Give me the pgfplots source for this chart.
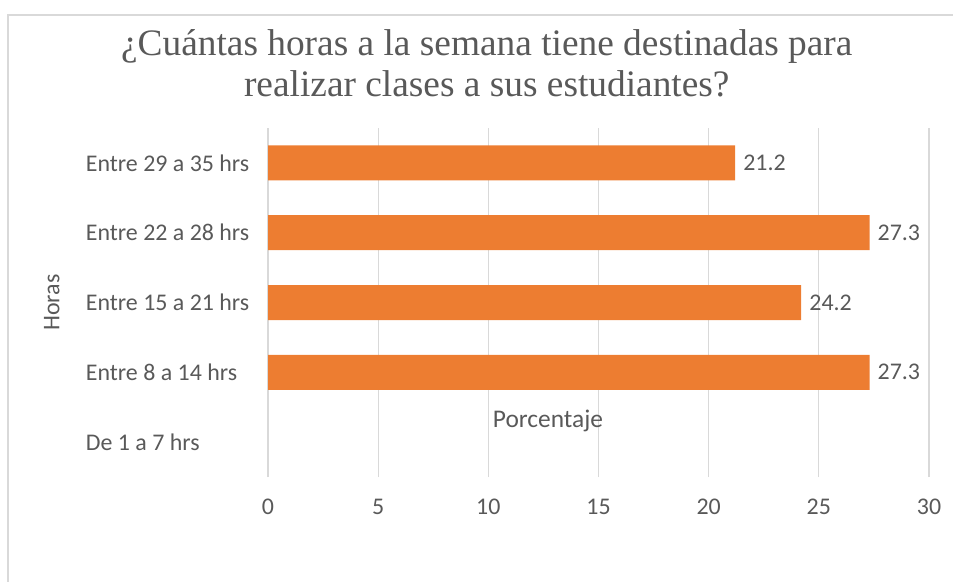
\documentclass[border=0pt]{standalone}
\usepackage{pgfplots}
\pgfplotsset{compat=1.18}
\usepackage{fontspec}
\setmainfont{Carlito}
\newfontfamily\titlefont{Liberation Serif}
\definecolor{barorange}{HTML}{ED7D31}
\definecolor{txtgray}{HTML}{595959}
\definecolor{gridgray}{HTML}{D9D9D9}

\begin{document}
\begin{tikzpicture}
\path[use as bounding box] (0,0) rectangle (953bp,-582bp);
\draw[gridgray, line width=1.5bp] (8bp,-582bp) -- (8bp,-15bp) -- (953bp,-15bp);
\begin{axis}[
  at={(268bp,-477bp)}, anchor=south west,
  width=661bp, height=349bp, scale only axis,
  xbar, bar width=35bp,
  xmin=0, xmax=30, xtick={0,5,...,30},
  ymin=-0.5, ymax=4.5, ytick={0,1,2,3,4},
  yticklabels={De 1 a 7 hrs, Entre 8 a 14 hrs, Entre 15 a 21 hrs, Entre 22 a 28 hrs, Entre 29 a 35 hrs},
  axis line style={draw=none},
  tick style={draw=none},
  xmajorgrids, major grid style={gridgray, line width=1.2bp},
  /pgf/number format/assume math mode=true,
  tick label style={font=\fontsize{24}{28}\selectfont, text=txtgray},
  xticklabel style={inner sep=0pt, anchor=north, yshift=-22bp},
  yticklabel style={inner sep=0pt, anchor=west, xshift=-178bp},
  xlabel={Porcentaje},
  xlabel style={font=\fontsize{25.5}{28}\selectfont, text=txtgray,
    at={(axis description cs:0.4236,0.162)}, anchor=center},
  ylabel={Horas},
  ylabel style={font=\fontsize{24}{28}\selectfont, text=txtgray,
    at={(axis description cs:-0.327,0.5)}, anchor=center},
  title={¿Cuántas horas a la semana tiene destinadas para\\realizar clases a sus estudiantes?},
  title style={font=\titlefont\fontsize{37.5}{41}\selectfont, text=txtgray, align=center,
    at={(axis description cs:0.331,1.168)}, anchor=center},
  nodes near coords,
  nodes near coords style={font=\fontsize{24}{28}\selectfont, text=txtgray, anchor=west,
    inner sep=0pt, xshift=8bp},
]
\addplot[fill=barorange, draw=none] coordinates {
  (27.3,1)
  (24.2,2)
  (27.3,3)
  (21.2,4)
};
\end{axis}
\end{tikzpicture}
\end{document}
